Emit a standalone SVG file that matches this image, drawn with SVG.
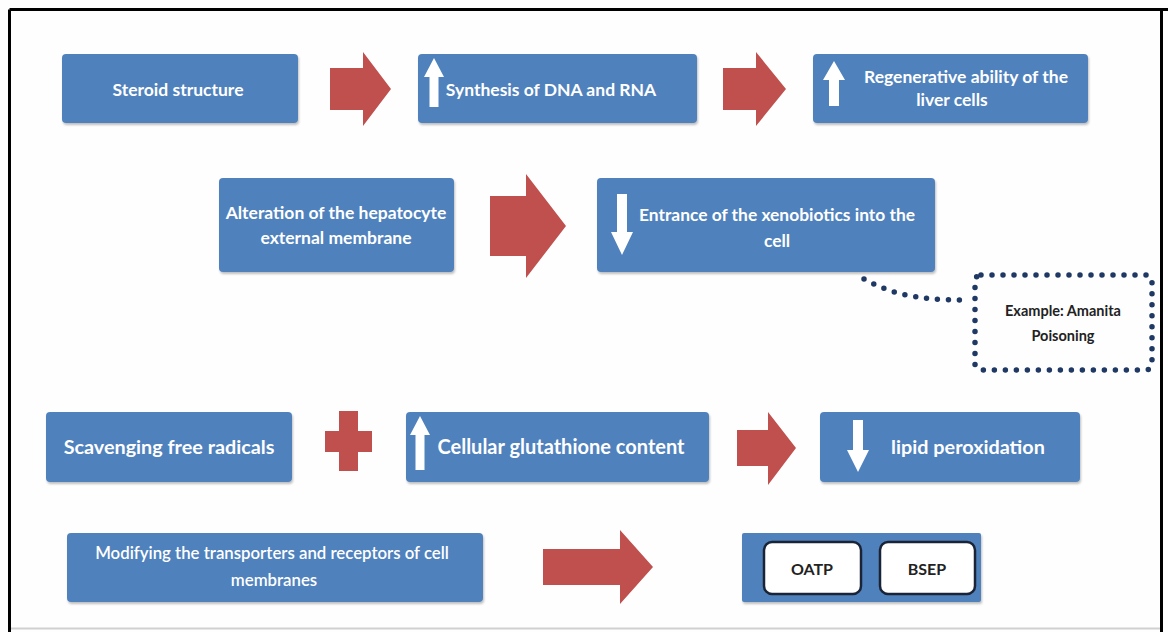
<svg xmlns="http://www.w3.org/2000/svg" width="1168" height="632" viewBox="0 0 1168 632">
<defs>
<style>
.box{fill:#4F81BD;filter:url(#sh)}
.t{font-family:Lato,"Open Sans","Liberation Sans",sans-serif;font-weight:bold;fill:#FFFFFF;text-anchor:middle}
.red{fill:#C0504D}
.wa{fill:#FFFFFF}
.dots{fill:none;stroke:#1F3864;stroke-width:5.5;stroke-linecap:round;stroke-dasharray:0 11}
.dk{font-family:Lato,"Open Sans","Liberation Sans",sans-serif;font-weight:bold;fill:#222222;text-anchor:middle}
</style>
<filter id="sh" x="-5%" y="-10%" width="110%" height="130%">
<feDropShadow dx="1" dy="2" stdDeviation="1.2" flood-color="#000" flood-opacity="0.25"/>
</filter>
</defs>
<rect x="0" y="0" width="1168" height="632" fill="#FEFEFE"/>
<g id="frame">
<line x1="9.5" y1="9.5" x2="1168" y2="9.5" stroke="#000" stroke-width="3"/>
<line x1="9.5" y1="9.5" x2="9.5" y2="632" stroke="#000" stroke-width="3"/>
<line x1="1161.5" y1="9.5" x2="1161.5" y2="632" stroke="#000" stroke-width="3"/>
<line x1="11" y1="628.5" x2="1160" y2="628.5" stroke="#D0D0D0" stroke-width="2"/>
</g>

<g id="connectors">
<polygon class="red" points="330,68 363,68 363,52 391,89 363,126 363,110 330,110"/>
<polygon class="red" points="723,68 756,68 756,52 786,89 756,126 756,110 723,110"/>
<polygon class="red" points="490,196 526,196 526,174 566,226 526,278 526,256 490,256"/>
<polygon class="red" points="737,430 768,430 768,412 796,448 768,485 768,466 737,466"/>
<polygon class="red" points="543,549 620,549 620,530 653,567 620,604 620,585 543,585"/>
<path class="dots" d="M864 279 C 888 292, 912 300, 964 300"/>
</g>

<g id="n1">
<rect class="box" x="62" y="54" width="236" height="69" rx="4"/>
<text class="t" x="178" y="96" font-size="17.5">Steroid structure</text>
</g>
<g id="n2">
<rect class="box" x="418" y="54" width="279" height="69" rx="4"/>
<polygon class="wa" points="434,58 444,77 438.5,77 438.5,107 429.5,107 429.5,77 424,77"/>
<text class="t" x="551" y="96" font-size="17.5">Synthesis of DNA and RNA</text>
</g>
<g id="n3">
<rect class="box" x="813" y="54" width="275" height="69" rx="4"/>
<polygon class="wa" points="834,61 845,80 839,80 839,106 829,106 829,80 823,80"/>
<text class="t" x="966" y="83" font-size="17.5">Regenerative ability of the</text>
<text class="t" x="952" y="106" font-size="17.5">liver cells</text>
</g>
<g id="n4">
<rect class="box" x="219" y="178" width="235" height="94" rx="4"/>
<text class="t" x="336" y="219" font-size="17.5">Alteration of the hepatocyte</text>
<text class="t" x="336" y="244" font-size="17.5">external membrane</text>
</g>
<g id="n5">
<rect class="box" x="597" y="178" width="338" height="94" rx="4"/>
<polygon class="wa" points="617,194 627,194 627,232 633,232 622,255 611,232 617,232"/>
<text class="t" x="777" y="221" font-size="17.4">Entrance of the xenobiotics into the</text>
<text class="t" x="777" y="247" font-size="17.4">cell</text>
</g>
<g id="n6">
<rect x="975" y="275" width="177" height="95" rx="6" class="dots"/>
<text class="dk" x="1063" y="316" font-size="14.5">Example: Amanita</text>
<text class="dk" x="1063" y="341" font-size="14.5">Poisoning</text>
</g>
<g id="n7">
<rect class="box" x="46" y="412" width="246" height="70" rx="4"/>
<text class="t" x="169" y="454" font-size="19.8">Scavenging free radicals</text>
</g>
<g id="plus">
<rect class="red" x="339" y="411" width="19" height="60"/>
<rect class="red" x="325" y="431" width="47" height="21"/>
</g>
<g id="n8">
<rect class="box" x="406" y="412" width="303" height="70" rx="4"/>
<polygon class="wa" points="420,416 430,435 424.5,435 424.5,470 415.5,470 415.5,435 410,435"/>
<text class="t" x="561" y="454" font-size="20">Cellular glutathione content</text>
</g>
<g id="n9">
<rect class="box" x="820" y="412" width="260" height="70" rx="4"/>
<polygon class="wa" points="853,420 863,420 863,450 869,450 858,472 847,450 853,450"/>
<text class="t" x="968" y="454" font-size="19.8">lipid peroxidation</text>
</g>
<g id="n10">
<rect class="box" x="67" y="533" width="416" height="69" rx="4"/>
<text class="t" x="272" y="559" font-size="16.8" style="font-weight:600">Modifying the transporters and receptors of cell</text>
<text class="t" x="274" y="586" font-size="16.8" style="font-weight:600">membranes</text>
</g>
<g id="n11">
<rect class="box" x="742" y="533" width="239" height="69" rx="2"/>
<rect x="764" y="542" width="97" height="52" rx="8" fill="#FFFFFF" stroke="#1A2436" stroke-width="2.5"/>
<text class="dk" x="812" y="575" font-size="16">OATP</text>
<rect x="880" y="542" width="95" height="52" rx="8" fill="#FFFFFF" stroke="#1A2436" stroke-width="2.5"/>
<text class="dk" x="927" y="575" font-size="16">BSEP</text>
</g>
</svg>
